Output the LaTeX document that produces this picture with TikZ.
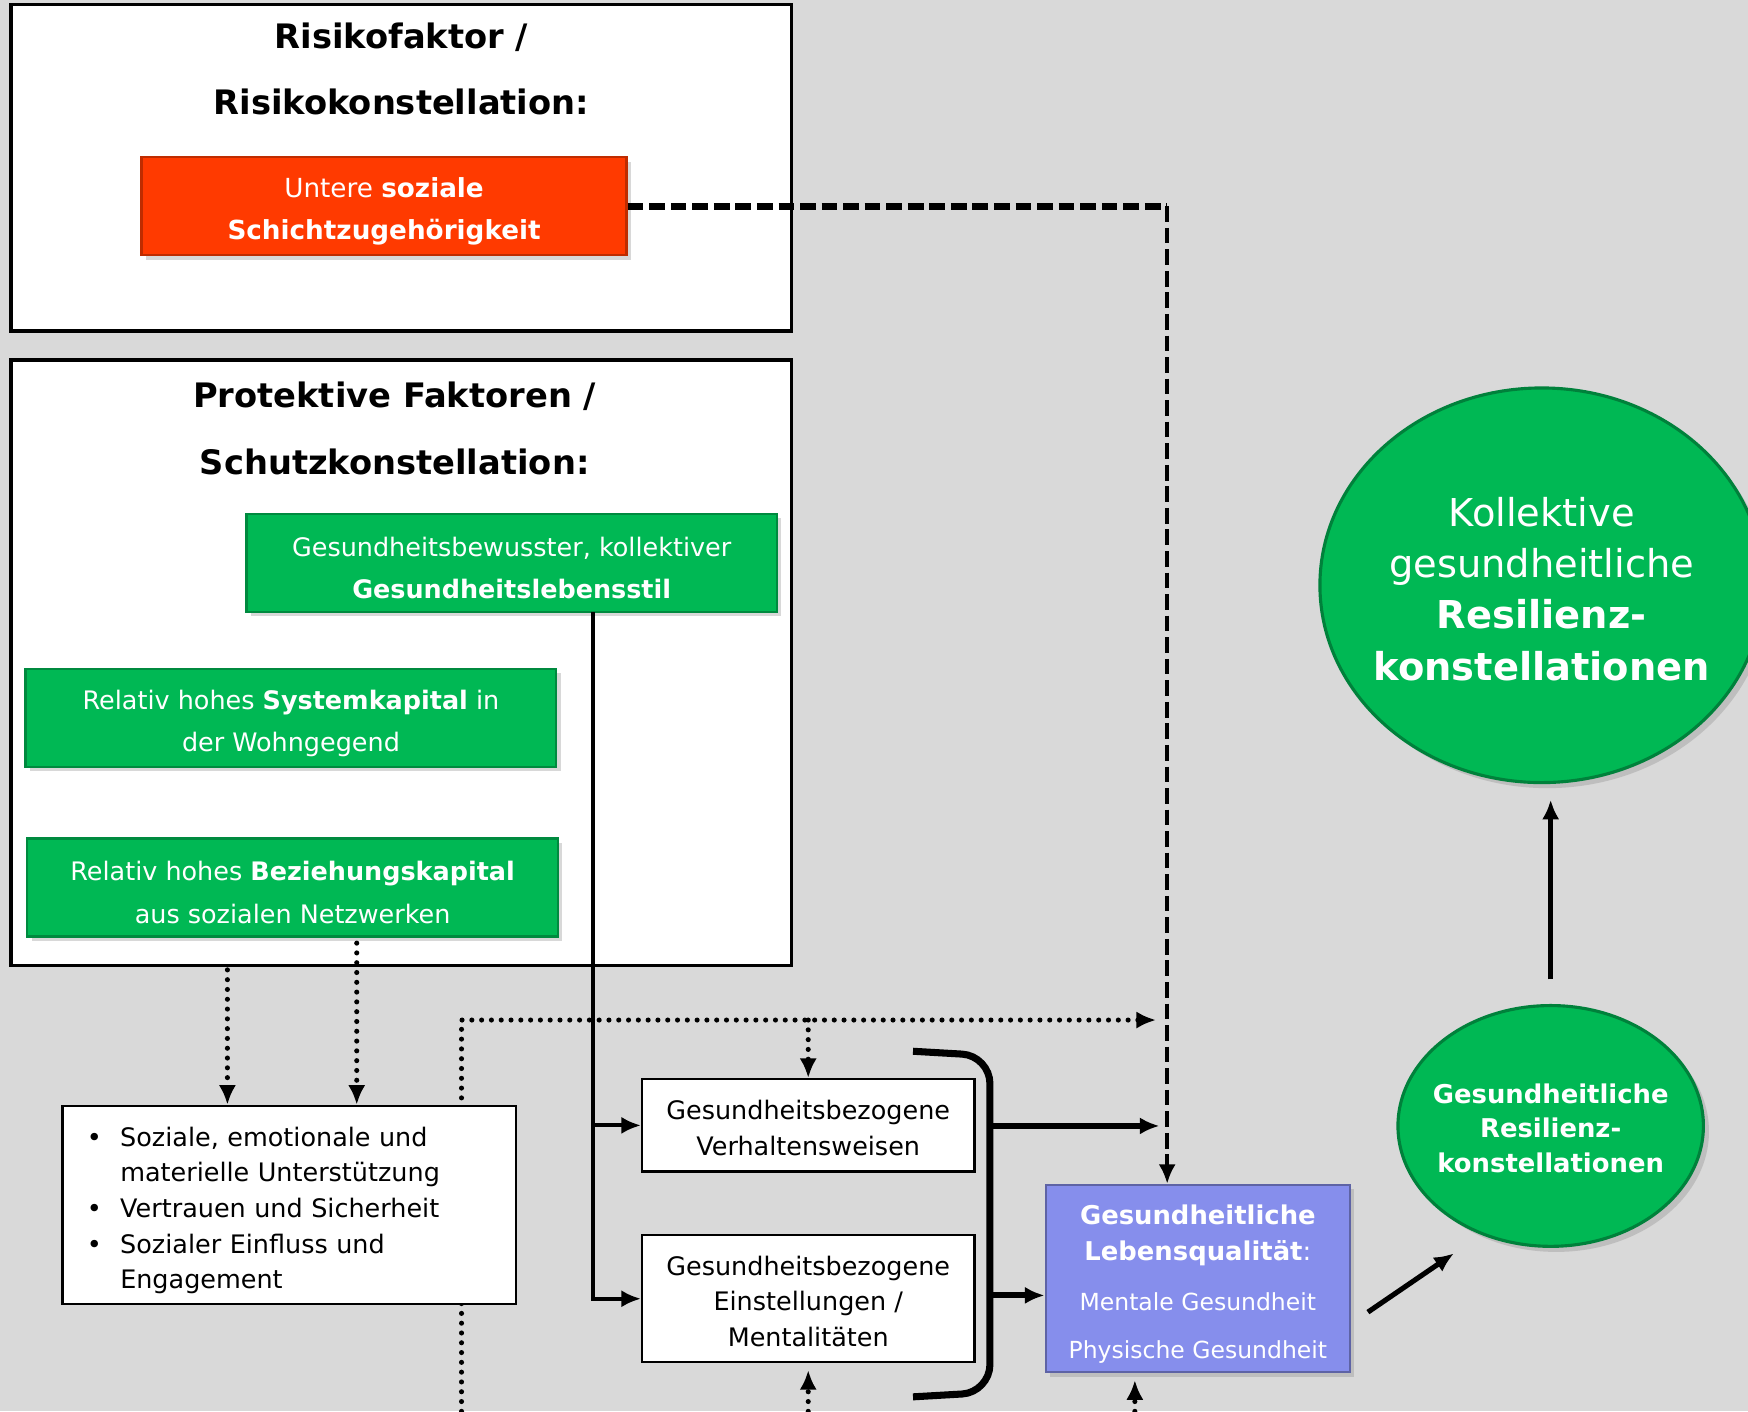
\documentclass[tikz,border=0pt]{standalone}
\usepackage{fontspec}
\setmainfont{DejaVu Sans}
\usetikzlibrary{shapes.geometric,shadows,arrows.meta}

\definecolor{bggray}{RGB}{217,217,217}
\definecolor{riskred}{RGB}{255,58,0}
\definecolor{protgreen}{RGB}{0,184,84}
\definecolor{qolblue}{RGB}{134,142,236}

% lowers the text block of a node a little
\newcommand{\lift}[1]{\rule{0pt}{#1}}

\begin{document}
\begin{tikzpicture}[x=0.1mm,y=-0.1mm,>={Latex[length=5pt,width=4.4pt]}]
        \tikzstyle{frame}=[rectangle,draw=black,line width=0.9pt,fill=white,inner sep=0pt,minimum width=70mm]
        \tikzstyle{heading}=[align=center,font=\fontsize{8.6}{17}\selectfont\bfseries]
        \tikzstyle{factor}=[rectangle,draw=protgreen!75!black,line width=0.6pt,fill=protgreen,text=white,align=center,minimum width=47.6mm,minimum height=8.8mm,inner sep=0pt,font=\fontsize{6.5}{10.8}\selectfont,drop shadow={opacity=0.3,shadow xshift=0.4mm,shadow yshift=-0.4mm}]
        \tikzstyle{riskfactor}=[factor,draw=riskred!75!black,fill=riskred,minimum width=43.5mm,font=\fontsize{6.7}{10.8}\selectfont]
        \tikzstyle{wbox}=[rectangle,draw=black,line width=0.6pt,fill=white,align=center,minimum width=29.8mm,inner sep=0pt,font=\fontsize{6.5}{9.1}\selectfont]
        \tikzstyle{qolbox}=[rectangle,draw=qolblue!70!black,line width=0.6pt,fill=qolblue,text=white,align=center,minimum width=27.3mm,minimum height=16.8mm,inner sep=0pt,font=\fontsize{6.6}{9.1}\selectfont,drop shadow={opacity=0.3,shadow xshift=0.4mm,shadow yshift=-0.4mm}]
        \tikzstyle{ball}=[ellipse,draw=protgreen!70!black,line width=0.8pt,fill=protgreen,text=white,align=center,inner sep=-1.5mm,drop shadow={opacity=0.3,shadow xshift=0.5mm,shadow yshift=-0.5mm}]
        \tikzstyle{edge}=[draw,line width=1pt]
        \tikzstyle{heavy edge}=[draw,line width=1.5pt]
        \tikzstyle{dot edge}=[draw,line width=1.3pt,line cap=round,dash pattern=on 0pt off 2.5pt]
        \tikzstyle{risk edge}=[draw,dash pattern=on 4pt off 1.5pt]

        \fill[bggray] (0,0) rectangle (1568,1266);
        \useasboundingbox (0,0) rectangle (1568,1266);

        % dotted feedback line behind the boxes
        \coordinate (dfoot) at (414,1266);
        \coordinate (dturn) at (414,915);
        \coordinate (dtip) at (1037,915);
        \path[dot edge,->] (dfoot) -- (dturn) -- (dtip);

        % frames
        \node [frame,minimum height=29.3mm] (riskframe) at (360,150.5) {};
        \node [frame,minimum height=54.3mm] (protframe) at (360,594.5) {};
        \node [heading] (risktitle) at (360,62) {Risikofaktor /\\Risikokonstellation:};
        \node [heading] (prottitle) at (354,384.5) {Protektive Faktoren /\\Schutzkonstellation:};

        \node [riskfactor] (risk) at (344.5,185) {\lift{7.8pt}Untere \textbf{soziale}\\\textbf{Schichtzugehörigkeit}};
        \node [factor] (life) at (459,505) {\lift{7.6pt}Gesundheitsbewusster, kollektiver\\\textbf{Gesundheitslebensstil}};
        \node [factor] (sys) at (261,644) {\lift{7.6pt}Relativ hohes \textbf{Systemkapital} in\\der Wohngegend};
        \node [factor] (rel) at (262.5,796) {\lift{7.6pt}Relativ hohes \textbf{Beziehungskapital}\\aus sozialen Netzwerken};

        % lower row
        \node [wbox,align=left,text width=36.3mm,minimum width=40.7mm,minimum height=17.8mm,inner xsep=2.2mm] (bul) at (259.5,1081)
          {\begin{tabular}{@{}p{8.5pt}@{}l@{}}
           \lift{9pt}\textbullet & Soziale, emotionale und\\
                       & materielle Unterstützung\\
           \textbullet & Vertrauen und Sicherheit\\
           \textbullet & Sozialer Einfluss und\\
                       & Engagement
           \end{tabular}};
        \node [wbox,minimum height=8.3mm] (verh) at (725,1009.5) {\lift{6.2pt}Gesundheitsbezogene\\Verhaltensweisen};
        \node [wbox,minimum height=11.4mm] (ein) at (725,1165) {\lift{6.2pt}Gesundheitsbezogene\\Einstellungen /\\Mentalitäten};
        \node [qolbox] (lq) at (1074.5,1147)
          {\lift{7.7pt}\textbf{Gesundheitliche}\\\textbf{Lebensqualität}:\\[3.7pt]{\fontsize{6}{9.1}\selectfont Mentale Gesundheit}\\[3.1pt]{\fontsize{6}{9.1}\selectfont Physische Gesundheit}};
        \node [ball,minimum width=39.8mm,minimum height=35.4mm,font=\fontsize{9.8}{13.1}\selectfont] (rbig) at (1383,525)
          {\lift{9.2pt}Kollektive\\gesundheitliche\\\textbf{Resilienz-}\\\textbf{konstellationen}};
        \node [ball,minimum width=27.4mm,minimum height=21.6mm,font=\fontsize{6.6}{8.8}\selectfont\bfseries] (rsmall) at (1391,1010)
          {\lift{6.2pt}Gesundheitliche\\Resilienz-\\konstellationen};

        % risk path
        \coordinate (rturn) at (1047,185);
        \path[risk edge,line width=1.7pt] (risk.east) -- (rturn);
        \path[risk edge,line width=1pt,->] (rturn) -- (rturn |- lq.north);

        % lifestyle path
        \coordinate (lsout) at (532,549);
        \path[edge,->] (lsout) |- (ein.west);
        \path[edge,->] (lsout |- verh.west) -- (verh.west);

        % dotted arrows
        \coordinate (d1) at (204,870);
        \coordinate (d2) at (320,846);
        \path[dot edge,->] (d1) -- (d1 |- bul.north);
        \path[dot edge,->] (d2) -- (d2 |- bul.north);
        \path[dot edge,->] (verh.north |- dturn) -- (verh.north);
        \coordinate (efoot) at (725,1266);
        \path[dot edge,->,shorten >=0.6mm] (efoot) -- (ein.south);
        \coordinate (qfoot) at (1018,1266);
        \path[dot edge,->,shorten >=0.6mm] (qfoot) -- (qfoot |- lq.south);

        % bracket
        \draw[line width=1.8pt,rounded corners=2.5mm] (819,943) -- (888,947) -- (888,1249) -- (819,1253);
        \coordinate (bup) at (888,1010);
        \coordinate (bupend) at (1040,1010);
        \path[heavy edge,->] (bup) -- (bupend);
        \coordinate (blow) at (888,1162);
        \path[heavy edge,->] (blow) -- (blow -| lq.west);

        % resilience
        \coordinate (rbot) at (rsmall.north |- rbig.south);
        \path[heavy edge,line width=1.3pt,->] ([shift={(1.5mm,-3mm)}]lq.east) -- ([shift={(1.1mm,-3.7mm)}]rsmall.south west);
        \path[heavy edge,line width=1.3pt,->] ([yshift=2.2mm]rsmall.north) -- ([yshift=-1.4mm]rbot);
      \end{tikzpicture}
\end{document}
